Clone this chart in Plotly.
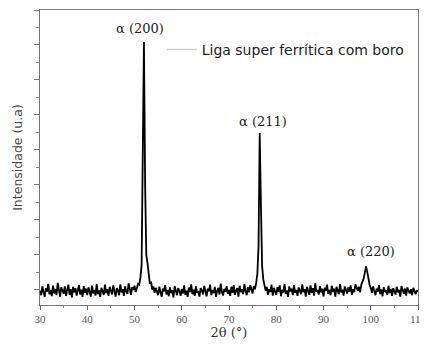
import plotly.graph_objects as go

# 2theta values (degrees), 0.25 deg step from 30 to 110
two_theta_start = 30.0
two_theta_step = 0.25

intensity = [
    95, 70, 120, 85, 60, 110, 90, 135, 75, 100, 65, 125, 80, 105, 70, 140, 88, 62, 115, 92,
    78, 120, 66, 98, 130, 72, 105, 58, 118, 86, 110, 68, 96, 128, 74, 102, 60, 122, 84, 108,
    70, 115, 90, 62, 125, 80, 100, 68, 135, 76, 98, 60, 112, 88, 72, 130, 82, 104, 66, 118,
    92, 74, 126, 84, 62, 110, 96, 70, 132, 86, 104, 66, 120, 90, 78, 138, 94, 72, 116, 100,
    124, 88, 110, 135, 130, 170, 240, 900, 1517, 700, 300, 254, 175, 135, 148, 102, 120, 84, 112, 96,
    70, 118, 86, 60, 108, 92, 128, 74, 100, 64, 115, 82, 98, 58, 122, 88, 70, 110, 94, 66,
    105, 80, 126, 72, 96, 60, 114, 88, 132, 76, 102, 66, 120, 84, 92, 62, 110, 98, 74, 124,
    86, 64, 108, 92, 130, 70, 100, 82, 118, 60, 96, 112, 74, 136, 88, 68, 106, 90, 122, 78,
    100, 66, 118, 84, 128, 72, 96, 110, 62, 124, 88, 104, 76, 134, 92, 70, 116, 86, 128, 98,
    80, 122, 104, 140, 190, 350, 997, 600, 240, 160, 128, 96, 118, 74, 106, 88, 130, 68, 112, 94,
    72, 116, 90, 126, 64, 102, 86, 134, 78, 98, 60, 120, 92, 108, 70, 128, 84, 100, 66, 114,
    94, 76, 132, 88, 104, 62, 118, 96, 72, 126, 84, 110, 68, 138, 90, 100, 74, 122, 86, 106,
    64, 112, 94, 130, 78, 100, 70, 124, 88, 108, 62, 118, 92, 76, 134, 86, 102, 68, 120, 96,
    80, 114, 90, 126, 72, 104, 88, 132, 110, 96, 118, 86, 130, 150, 165, 200, 235, 205, 160, 130,
    112, 84, 120, 96, 70, 108, 90, 128, 76, 102, 64, 116, 88, 98, 72, 124, 82, 106, 66, 110,
    92, 74, 118, 86, 100, 62, 122, 90, 78, 108, 68, 114, 94, 80, 104, 70, 112, 88, 76, 98,
    90,
]

two_theta = [two_theta_start + two_theta_step * i for i in range(len(intensity))]

peak_labels = ["α (200)", "α (211)", "α (220)"]
peak_label_x = [51.15, 77.1, 99.95]
peak_label_y = [1597, 1060, 317]

x_ticks = [30, 40, 50, 60, 70, 80, 90, 100, 110]
series_name = "Liga super ferrítica com boro"

fig = go.Figure()
fig.add_trace(go.Scatter(x=two_theta, y=intensity, mode="lines",
                         line=dict(color="black", width=1.8), showlegend=False))
fig.add_trace(go.Scatter(x=[None], y=[None], mode="lines", name=series_name,
                         line=dict(color="#cfcfcf", width=1.5), showlegend=True))

for t, xx, yy in zip(peak_labels, peak_label_x, peak_label_y):
    fig.add_annotation(x=xx, y=yy, text=t, showarrow=False,
                       font=dict(family="DejaVu Serif", size=13, color="#222"))

fig.update_layout(
    width=420, height=337,
    margin=dict(l=32, r=6, t=1, b=40),
    paper_bgcolor="white", plot_bgcolor="white",
    legend=dict(x=0.322, y=0.865, xanchor="left", yanchor="middle",
                bgcolor="rgba(0,0,0,0)",
                font=dict(family="DejaVu Sans", size=14, color="#222")),
    xaxis=dict(range=[30, 110], tickvals=x_ticks, ticktext=[str(v) for v in x_ticks],
               ticks="outside", ticklen=4, tickcolor="#666",
               ticklabeloverflow="allow",
               minor=dict(dtick=5, ticklen=2, ticks="outside", tickcolor="#888"),
               showline=True, linecolor="#777", linewidth=1, mirror=True,
               showgrid=False, zeroline=False,
               tickfont=dict(family="Liberation Serif", size=11, color="#555"),
               title=dict(text="2θ (°)", standoff=1,
                          font=dict(family="DejaVu Serif", size=13, color="#333"))),
    yaxis=dict(range=[14, 1700], tick0=100, dtick=200, showticklabels=False,
               ticks="outside", ticklen=5, tickcolor="#777",
               minor=dict(tick0=100, dtick=100, ticklen=3, ticks="outside", tickcolor="#888"),
               showline=True, linecolor="#777", linewidth=1, mirror=True,
               showgrid=False, zeroline=False,
               title=dict(text="Intensidade (u.a)", standoff=8,
                          font=dict(family="DejaVu Sans", size=12.5, color="#444"))),
)

fig.write_html("out.html")
